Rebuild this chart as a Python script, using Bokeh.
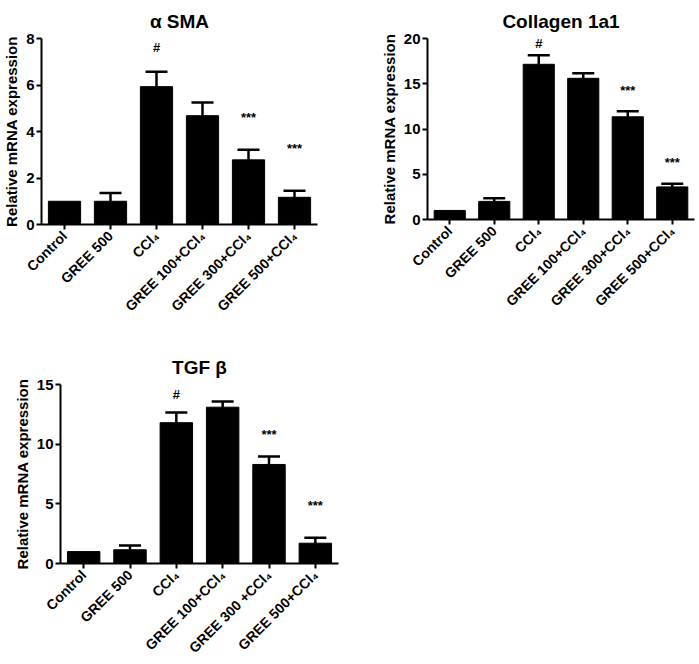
import math
from bokeh.plotting import figure
from bokeh.models import ColumnDataSource, Whisker, TeeHead, FixedTicker, Spacer
from bokeh.layouts import row, column
from bokeh.embed import file_html
from bokeh.resources import INLINE
from bokeh.core.properties import value

# ---------------- data ----------------
groups_sma = ["Control", "GREE 500", "CCl₄", "GREE 100+CCl₄", "GREE 300+CCl₄", "GREE 500+CCl₄"]
sma_mean = [1.0, 1.0, 5.93, 4.68, 2.78, 1.17]
sma_upper = [1.0, 1.36, 6.57, 5.25, 3.22, 1.45]
sma_mark = ["", "", "#", "", "***", "***"]
sma_mark_y = [0, 0, 7.6, 0, 4.6, 3.25]
sma_ticks = [0, 2, 4, 6, 8]

groups_col = ["Control", "GREE 500", "CCl₄", "GREE 100+CCl₄", "GREE 300+CCl₄", "GREE 500+CCl₄"]
col_mean = [1.0, 2.0, 17.15, 15.6, 11.35, 3.6]
col_upper = [1.0, 2.35, 18.15, 16.17, 11.95, 3.96]
col_mark = ["", "", "#", "", "***", "***"]
col_mark_y = [0, 0, 19.5, 0, 14.3, 6.25]
col_ticks = [0, 5, 10, 15, 20]

groups_tgf = ["Control", "GREE 500", "CCl₄", "GREE 100+CCl₄", "GREE 300 +CCl₄", "GREE 500+CCl₄"]
tgf_mean = [1.0, 1.15, 11.8, 13.1, 8.3, 1.7]
tgf_upper = [1.0, 1.5, 12.65, 13.57, 8.97, 2.16]
tgf_mark = ["", "", "#", "", "***", "***"]
tgf_mark_y = [0, 0, 14.2, 0, 10.85, 4.9]
tgf_ticks = [0, 5, 10, 15]

FONT = "Liberation Sans"


def panel(title, cats, mean, upper, marks, mark_y, ticks, width, height,
          bl, br, bt, bb):
    p = figure(x_range=cats, y_range=(0, ticks[-1]), width=width, height=height,
               output_backend="svg", toolbar_location=None, title=title,
               min_border_left=bl, min_border_right=br, min_border_top=bt,
               min_border_bottom=bb)
    p.outline_line_color = None
    p.xgrid.grid_line_color = None
    p.ygrid.grid_line_color = None
    p.background_fill_color = "white"

    src = ColumnDataSource(dict(x=cats, top=mean))
    p.vbar(x="x", top="top", width=0.7, source=src, fill_color="black",
           line_color="black")

    wx = [c for c, m, u in zip(cats, mean, upper) if u > m]
    wl = [m for m, u in zip(mean, upper) if u > m]
    wu = [u for m, u in zip(mean, upper) if u > m]
    wsrc = ColumnDataSource(dict(x=wx, lower=wl, upper=wu))
    w = Whisker(base="x", lower="lower", upper="upper", source=wsrc,
                line_color="black", line_width=2.5, lower_head=None,
                upper_head=TeeHead(size=22, line_color="black", line_width=2.5))
    p.add_layout(w)

    mx = [c for c, t in zip(cats, marks) if t]
    my = [y for y, t in zip(mark_y, marks) if t]
    mt = [t for t in marks if t]
    msrc = ColumnDataSource(dict(x=mx, y=my, t=mt))
    p.text(x="x", y="y", text="t", source=msrc, text_align="center",
           text_baseline="middle", text_font=value(FONT),
           text_font_size="13px", text_font_style="bold", text_color="black")

    p.title.align = "center"
    p.title.text_font = FONT
    p.title.text_font_size = "19px"
    p.title.text_font_style = "bold"
    p.title.text_color = "black"
    p.title.standoff = 13

    for ax in (p.xaxis[0], p.yaxis[0]):
        ax.axis_line_width = 2
        ax.axis_line_color = "black"
        ax.major_tick_line_width = 2
        ax.major_tick_line_color = "black"
        ax.major_tick_in = 0
        ax.major_tick_out = 5
        ax.minor_tick_line_color = None
        ax.major_label_text_font = FONT
        ax.major_label_text_font_style = "bold"
        ax.major_label_text_color = "black"

    p.yaxis.ticker = FixedTicker(ticks=ticks)
    p.yaxis.major_label_text_font_size = "15px"
    p.yaxis.major_label_standoff = 2
    p.yaxis.axis_label = "Relative mRNA expression"
    p.yaxis.axis_label_text_font = FONT
    p.yaxis.axis_label_text_font_size = "15px"
    p.yaxis.axis_label_text_font_style = "bold"
    p.yaxis.axis_label_text_color = "black"
    p.yaxis.axis_label_standoff = 3

    p.xaxis.major_label_orientation = math.pi / 4
    p.xaxis.major_label_text_font_size = "14px"
    p.xaxis.major_label_standoff = 4
    return p


p1 = panel("α SMA", groups_sma, sma_mean, sma_upper, sma_mark, sma_mark_y,
           sma_ticks, 337, 322, 28, 20, 38, 60)
p2 = panel("Collagen 1a1", groups_col, col_mean, col_upper, col_mark, col_mark_y,
           col_ticks, 320, 317, 40, 3, 36, 60)
p3 = panel("TGF β", groups_tgf, tgf_mean, tgf_upper, tgf_mark, tgf_mark_y,
           tgf_ticks, 348, 324, 60, 10, 44, 60)

layout = column(row(p1, Spacer(width=40), p2), Spacer(height=18), p3)

open("out.html", "w").write(file_html(layout, INLINE))
